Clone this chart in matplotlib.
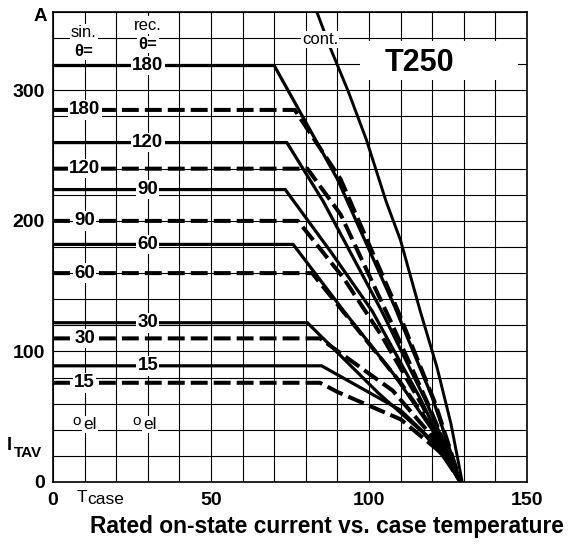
import matplotlib
matplotlib.use("Agg")
import matplotlib.pyplot as plt
import numpy as np

plt.rcParams['font.family'] = ['Liberation Sans', 'DejaVu Sans']

# sin. conduction curves (case temperature degC, I_TAV A)
sin_180_x = [0, 70, 90, 108, 120, 129]
sin_180_y = [319, 319, 232, 135, 65, 0]
sin_120_x = [0, 74, 85.5, 104, 118, 129]
sin_120_y = [260, 260, 215, 131, 62, 0]
sin_90_x = [0, 73.5, 88, 101, 116, 129]
sin_90_y = [224, 224, 176, 131, 65, 0]
sin_60_x = [0, 76, 92, 108, 120, 129]
sin_60_y = [182, 182, 131, 82, 40, 0]
sin_30_x = [0, 80.5, 103, 117, 124, 129]
sin_30_y = [122, 122, 68, 38, 18, 0]
sin_15_x = [0, 85, 110, 122, 129]
sin_15_y = [89, 89, 55, 27, 0]

# rec. conduction curves
rec_180_x = [0, 76.5, 91, 109, 121, 129]
rec_180_y = [285, 285, 232, 132, 60, 0]
rec_120_x = [0, 80.5, 91, 106.5, 119, 129]
rec_120_y = [240, 240, 205, 125, 58, 0]
rec_90_x = [0, 77.5, 92, 104, 117, 129]
rec_90_y = [200, 200, 156, 112, 58, 0]
rec_60_x = [0, 82, 96, 110, 121, 129]
rec_60_y = [160, 160, 118, 76, 38, 0]
rec_30_x = [0, 84.5, 107.5, 120, 129]
rec_30_y = [110, 110, 70, 35, 0]
rec_15_x = [0, 84.5, 90, 110, 123, 129]
rec_15_y = [76, 76, 69, 48, 22, 0]

# continuous DC
cont_x = [83.5, 88, 93.3, 99.2, 105.4, 110, 116.2, 121.5, 125.9, 129.5]
cont_y = [360, 331, 300, 262, 215, 185, 131, 88, 45, 0]

sin_labels = ['180', '120', '90', '60', '30', '15']
rec_labels = ['180', '120', '90', '60', '30', '15']

sin_curves = [(sin_180_x, sin_180_y), (sin_120_x, sin_120_y), (sin_90_x, sin_90_y),
              (sin_60_x, sin_60_y), (sin_30_x, sin_30_y), (sin_15_x, sin_15_y)]
rec_curves = [(rec_180_x, rec_180_y), (rec_120_x, rec_120_y), (rec_90_x, rec_90_y),
              (rec_60_x, rec_60_y), (rec_30_x, rec_30_y), (rec_15_x, rec_15_y)]

W, H = 571, 544
fig = plt.figure(figsize=(W / 100, H / 100), dpi=100)
ax = fig.add_axes([53 / W, 62 / H, 474 / W, 470 / H])
ax.set_xlim(0, 150)
ax.set_ylim(0, 360)

# grid
ax.set_xticks(np.arange(0, 151, 10), minor=True)
ax.set_yticks(np.arange(0, 361, 20), minor=True)
ax.set_xticks([0, 50, 100, 150])
ax.set_yticks([0, 100, 200, 300])
ax.grid(True, which='both', color='black', linewidth=0.8, zorder=0)
ax.set_axisbelow(True)
ax.tick_params(which='both', length=0)
ax.tick_params(axis='x', pad=7)
ax.tick_params(axis='y', pad=6)
for lab in ax.get_xticklabels() + ax.get_yticklabels():
    lab.set_fontweight('bold')
    lab.set_fontsize(14)
for sp in ax.spines.values():
    sp.set_linewidth(1.2)

box = dict(facecolor='white', edgecolor='none', pad=1.0)

for (xs, ys), lab in zip(sin_curves, sin_labels):
    ax.plot(xs, ys, color='black', linewidth=2.3, solid_capstyle='butt', zorder=3)
    ax.text(30, ys[0], lab, ha='center', va='center', fontsize=13.5,
            fontweight='bold', bbox=box, zorder=5)

for (xs, ys), lab in zip(rec_curves, rec_labels):
    ax.plot(xs, ys, color='black', linewidth=2.9, linestyle=(0, (4.2, 1.5)),
            dash_capstyle='butt', zorder=3)
    ax.text(10, ys[0], lab, ha='center', va='center', fontsize=13.5,
            fontweight='bold', bbox=box, zorder=5)

ax.plot(cont_x, cont_y, color='black', linewidth=2.1, zorder=3)
ax.text(84.5, 339, 'cont.', ha='center', va='center', fontsize=12,
        bbox=box, zorder=5)

# header labels
ax.text(9.8, 344, 'sin.', ha='center', va='center', fontsize=12, bbox=box, zorder=5)
ax.text(9.8, 330, 'θ=', ha='center', va='center', fontsize=12, fontweight='bold',
        bbox=box, zorder=5)
ax.text(30, 350, 'rec.', ha='center', va='center', fontsize=12, bbox=box, zorder=5)
ax.text(30, 335, 'θ=', ha='center', va='center', fontsize=12, fontweight='bold',
        bbox=box, zorder=5)

# device type box
ax.add_patch(plt.Rectangle((97, 308), 50, 30, facecolor='white', edgecolor='none', zorder=4))
ax.text(116, 321, 'T250', ha='center', va='center', fontsize=22,
        fontweight='bold', zorder=5)

# degrees electrical
for xo, xe in [(7.6, 11.8), (26.6, 30.8)]:
    ax.text(xo, 46.5, 'o', ha='center', va='center', fontsize=11, bbox=box, zorder=5)
    ax.text(xe, 44, 'el', ha='center', va='center', fontsize=12.5, bbox=box, zorder=5)

# axis labels
ax.text(-4.1, 356.5, 'A', ha='center', va='center', fontsize=13.5, fontweight='bold',
        clip_on=False)
ax.text(-13.8, 28, 'I', ha='center', va='center', fontsize=13, fontweight='bold',
        clip_on=False)
ax.text(-7.9, 22, 'TAV', ha='center', va='center', fontsize=11, fontweight='bold',
        clip_on=False)
ax.text(9.2, -11.5, 'T', ha='center', va='center', fontsize=12.5, clip_on=False)
ax.text(16.8, -13.5, 'case', ha='center', va='center', fontsize=12.5, clip_on=False)

fig.text(327 / W, 1 - 527 / H, 'Rated on-state current vs. case temperature',
         ha='center', va='center', fontsize=16.4, fontweight='bold')

fig.savefig('out.png', dpi=100)
